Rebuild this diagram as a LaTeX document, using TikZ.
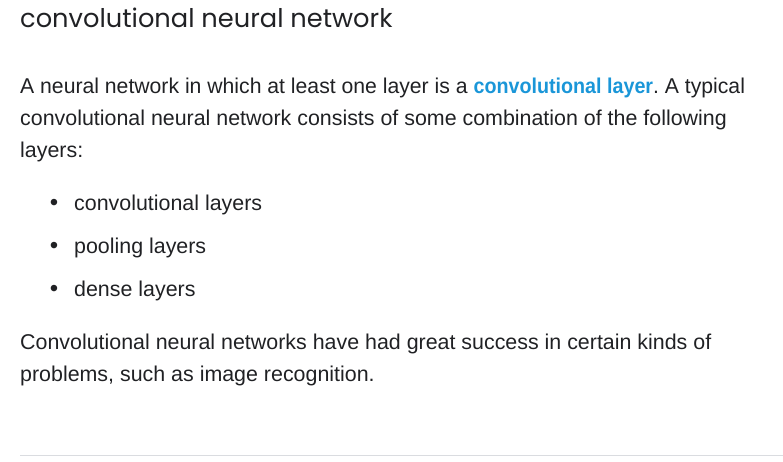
\documentclass[tikz,border=0pt]{standalone}
\usepackage{fontspec}
\usepackage{xcolor}
\usepackage{graphicx}
\setmainfont{Liberation Sans}
\newfontfamily\titlefont{Poppins}
\definecolor{page-text}{HTML}{202124}
\definecolor{link-blue}{HTML}{1A96D8}
\definecolor{rule-gray}{HTML}{DADCE0}
\tikzset{
    title-text/.style = {anchor=base west, inner sep=0pt, text=page-text, font=\titlefont\fontsize{25.7}{30}\selectfont},
    body-text/.style = {anchor=base west, inner sep=0pt, text=page-text, font=\frenchspacing\fontsize{21.4}{26}\selectfont},
    bullet-dot/.style = {anchor=base, inner sep=0pt, text=page-text, font=\fontsize{24}{26}\selectfont},
}
\newcommand{\linkword}[1]{\textcolor{link-blue}{\scalebox{0.93}[1]{\bfseries #1}}}

\begin{document}
\begin{tikzpicture}[x=1pt, y=-1pt]
\useasboundingbox (0,0) rectangle (783,461);
\node[title-text] (title) at (20,27) {convolutional neural network};
\node[body-text, xscale=0.99, transform shape] (line-a) at (20,93) {A neural network in which at least one layer is a \linkword{convolutional layer}. A typical};
\node[body-text] (line-b) at (20,125) {convolutional neural network consists of some combination of the following};
\node[body-text] (line-c) at (20,157) {layers:};
\node[bullet-dot] (dot-a) at (54,210) {•};
\node[body-text] (item-a) at (74,210) {convolutional layers};
\node[bullet-dot] (dot-b) at (54,253) {•};
\node[body-text] (item-b) at (74,253) {pooling layers};
\node[bullet-dot] (dot-c) at (54,296) {•};
\node[body-text] (item-c) at (74,296) {dense layers};
\node[body-text] (line-d) at (20,349) {Convolutional neural networks have had great success in certain kinds of};
\node[body-text] (line-e) at (20,381) {problems, such as image recognition.};
\draw[rule-gray, line width=1pt] (20,455) -- (783,455);
\end{tikzpicture}
\end{document}
